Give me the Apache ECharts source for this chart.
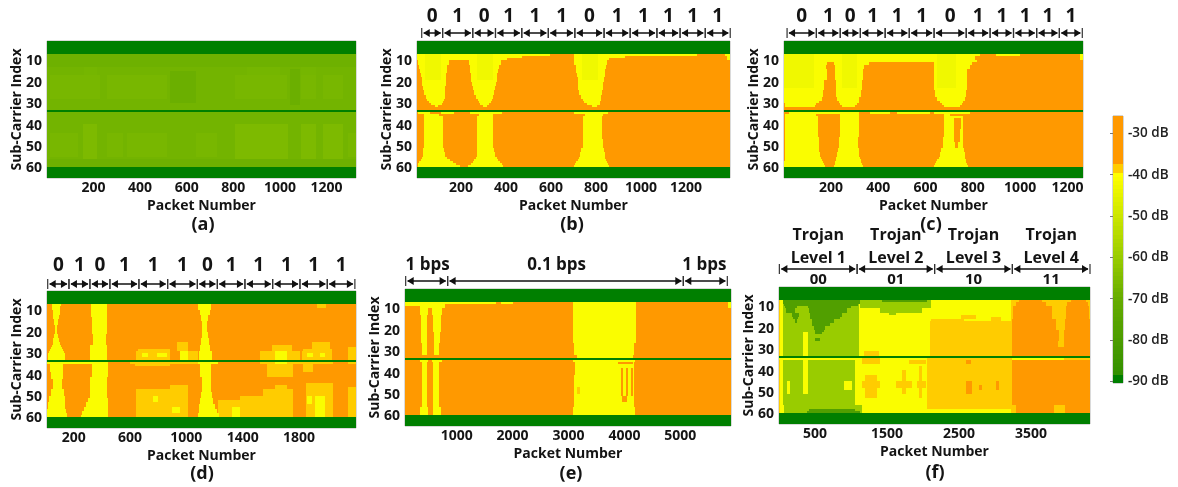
<!DOCTYPE html>
<html><head><meta charset="utf-8">
<style>html,body{margin:0;padding:0;background:#fff}#c{width:1178px;height:487px}</style>
<script src="https://cdn.jsdelivr.net/npm/echarts@6/dist/echarts.min.js"></script>
</head><body><div id="c"></div>
<script>
// dB levels used in the maps
const O=-30, G=-39, Y=-41, P=-43, LG=-60, DG=-78, K=-90;
// each record: [first sub-carrier, last sub-carrier, dB, packetFrom, packetTo, packetFrom, packetTo, ...]; later records overlay earlier ones
const panelA=[[7,59,-67.5,1,1326],
[7,12,-68.5,1,1326],[56,59,-68.5,1,1326],
[13,16,-67,160,214,860,1000,1092,1156],
[17,27,-66.5,14,228,257,514,806,1028,1092,1156,1185,1270],
[15,29,-69,528,642],[14,30,-69,1042,1085],
[40,55,-65.5,157,214,806,1035,1092,1156,1185,1270],
[44,54,-66.5,14,135,257,328,342,514,642,728,1292,1326],
[1,6,K,1,1326],[60,64,K,1,1326],[33,33,K,1,1326]];
const panelB=[[7,59,O,4,1396],
[7,7,Y,4,596,703,1249,1375,1396],[8,8,Y,4,470,703,930,1382,1396],[9,9,Y,4,403,703,860,1382,1396],
[10,11,Y,10,145,237,379,703,851],[12,13,Y,13,139,238,370,709,845],[14,15,Y,16,138,240,366,713,842],
[16,17,Y,20,135,243,362,716,839],[18,19,Y,25,133,246,359,718,836],[20,21,Y,28,132,249,356,719,833],
[22,23,Y,32,130,253,351,722,830],[24,25,Y,37,129,259,347,726,827],[26,27,Y,43,127,267,342,732,824],
[28,28,Y,50,124,274,336,741,821],[29,29,Y,56,121,278,332,747,820],[30,30,Y,65,117,284,326,759,817],[31,31,Y,84,99,296,314,781,804],
[7,18,P,40,110,270,340,740,810],
[34,34,Y,10,60,110,170,240,381,703,855],
[35,35,Y,37,100,280,340,750,830],
[36,46,Y,37,120,273,342,744,827],[47,50,Y,35,121,273,344,741,832],[51,52,Y,32,124,273,347,735,835],[53,54,Y,30,130,270,351,729,839],
[55,55,Y,26,139,265,359,723,842],[56,56,Y,20,151,259,366,718,845],[57,57,Y,15,163,252,373,712,850],[58,58,Y,10,178,243,382,706,854],[59,59,Y,7,195,232,388,701,858],
[1,6,K,4,1396],[60,64,K,4,1396],[33,33,K,4,1396]];
const panelC=[[7,59,O,1,1266],
[7,7,Y,1,831,900,1000,1253,1266],[8,9,Y,1,810,1253,1266],[10,10,Y,1,817],
[11,11,Y,1,183,214,359,636,796],[12,13,Y,1,180,218,338,636,786],[14,18,Y,1,183,218,335,636,777],
[19,23,Y,1,169,222,331,636,774],[24,26,Y,1,166,222,326,641,770],[27,28,Y,1,162,225,317,648,767],
[29,29,Y,1,148,232,317,662,760],[30,30,Y,7,138,236,310,669,753],[31,31,Y,7,133,246,302,676,746],
[7,22,P,1,130,245,310,650,730],
[34,34,Y,21,317,366,450,479,620,636,786],
[35,35,Y,7,138,239,317,676,704],
[36,45,Y,7,143,239,317,676,758],[46,50,Y,7,148,232,315,673,760],
[51,52,Y,7,150,228,318,665,763],[53,54,Y,7,155,225,320,659,765],[55,55,Y,7,158,222,322,655,767],
[56,56,Y,4,162,220,325,650,770],[57,57,Y,1,168,218,328,645,773],[58,58,Y,1,172,216,332,641,776],[59,59,Y,1,176,214,335,636,779],
[37,41,O,721,749],[42,47,O,721,744],[48,50,O,725,739],
[1,6,K,1,1266],[60,64,K,1,1266],[33,33,K,1,1266]];
const panelD=[[7,59,O,10,2205],
[28,28,G,659,884,1831,2032],[25,28,G,931,1014,1890,2020],[26,28,G,1606,1748],[27,28,G,2150,2205],
[29,32,G,642,884,1014,1085,1523,1807,1819,2032,2150,2205],
[29,32,Y,955,1014,1629,1712],[30,31,Y,682,730,790,860,1949,1984,1854,1902],
[7,8,G,1930,1990],
[34,34,G,599,1191,1523,2044,2150,2205],[34,34,Y,10,446,1085,1227,1629,1712],
[35,35,G,635,884],[35,40,G,1570,1760],[35,38,G,1831,1902],
[47,59,G,642,884],[45,59,G,884,1014],[52,59,G,1227,1381],[50,59,G,1381,1546],[47,59,G,1546,1760],[45,46,G,1629,1712],
[44,59,G,1850,2044],[46,59,G,2150,2205],
[50,59,Y,1913,1984],[50,53,Y,1854,1890],[55,59,Y,1322,1381],[50,52,Y,760,800],[55,57,Y,900,955],
[7,7,Y,43,107],[8,9,Y,46,105],[10,11,Y,50,100],[12,13,Y,55,95],[14,16,Y,62,88],[17,20,Y,68,80],[21,22,Y,62,88],[23,24,Y,55,92],[25,25,Y,50,100],[26,26,Y,46,108],[27,27,Y,40,115],[28,28,Y,32,122],[29,29,Y,25,130],[30,32,Y,19,138],
[34,38,Y,31,126],[39,41,Y,40,122],[42,46,Y,50,119],[47,49,Y,35,128],[50,52,Y,25,135],[53,55,Y,19,140],[56,57,Y,12,148],[58,59,Y,10,152],
[7,12,Y,320,439],[13,20,Y,328,435],[21,25,Y,334,432],[26,32,Y,318,434],[34,40,Y,327,446],[41,50,Y,315,439],[51,52,Y,300,446],[53,54,Y,290,446],[55,56,Y,275,446],[57,58,Y,262,446],[59,59,Y,250,446],
[7,9,Y,1085,1172],[10,11,Y,1095,1165],[12,14,Y,1104,1156],[15,19,Y,1113,1149],[20,22,Y,1110,1152],[23,25,Y,1104,1158],[26,28,Y,1097,1170],[29,32,Y,1090,1182],
[34,40,Y,1097,1172],[41,47,Y,1109,1172],[48,50,Y,1105,1180],[51,53,Y,1097,1191],[54,55,Y,1092,1205],[56,57,Y,1088,1220],[58,59,Y,1085,1232],
[1,6,K,10,2205],[60,64,K,10,2205],[33,33,K,10,2205]];
const panelE=[[7,59,O,75,5907],
[7,7,Y,75,1700,1800,2013],[8,9,Y,343,791],[8,8,Y,75,343],
[10,12,Y,343,492,564,731],[13,20,Y,355,475,582,713],[21,25,Y,361,463,594,701],[26,31,Y,373,463,600,689],
[34,34,Y,343,492,564,731],[35,48,Y,373,463,582,683],[49,55,Y,373,475,582,689],[56,59,Y,343,492,570,713],
[7,25,Y,3086,4201],[26,31,Y,3098,4172],[32,32,Y,3146,4160],
[34,34,Y,3086,4189],[35,40,Y,3116,4172],[41,55,Y,3104,4172],[56,59,Y,3074,4189],
[35,35,O,3891,4160],[38,50,O,3933,3981,4029,4070,4112,4160],[51,53,O,3951,4041],[47,49,G,3146,3206],
[7,9,Y,5859,5907],
[1,6,K,75,5907],[60,64,K,75,5907],[33,33,K,75,5907]];
const panelF=[[7,59,Y,1,4320],[7,59,G,1,20],
[7,32,LG,57,1109],[35,55,LG,57,1063],[56,59,LG,66,1155],
[34,34,Y,1,1086],[22,32,Y,335,400],[35,50,Y,335,400],[45,50,Y,112,159],[45,48,Y,900,1016],
[7,8,DG,57,1132],[9,9,DG,66,1100],[10,10,DG,80,250,400,1000],[11,12,DG,100,228,414,947],[13,14,DG,182,274,437,880],[15,15,DG,200,260,437,854],[16,17,DG,228,251,460,760],[18,18,DG,460,715],[19,20,DG,483,640],[21,21,DG,500,622],[22,22,DG,506,599],[25,25,DG,506,576],[58,58,DG,420,1060],[59,59,DG,390,1132],
[7,10,LG,1132,2105],[11,12,LG,1410,1990],[13,13,LG,1526,1619],[7,7,DG,1434,2059],
[31,32,G,1178,1387],[34,36,G,1155,1410],[35,36,G,1800,2036],[42,52,G,1202,1364],[45,47,G,1155,1410,1619,1851,1911,2036],[40,50,G,1712,1758],[38,52,G,1944,1990],
[17,32,G,2096,3241],[16,16,G,2105,2570],[14,15,G,2523,2731],[15,16,G,2940,3079],[34,57,G,2059,3241],
[35,36,O,2593,2662],[45,50,O,2593,2685],[45,48,O,3010,3056],[47,48,O,2778,2824],
[7,59,G,3218,4320],
[7,7,O,3330,3650,4060,4270],[8,9,O,3288,3705,4006,4294],[10,15,O,3255,3798,3983,4308],[16,20,O,3241,3844,3974,4320],[21,25,O,3241,3890,3960,4320],[26,28,O,3241,3881,3960,4320],
[29,32,O,3241,4320],[34,34,Y,3241,3960],[35,55,O,3241,4320],[56,59,O,3288,3821,3974,4320],
[1,6,K,1,4320],[60,64,K,1,4320],[33,33,K,1,4320]];

const subCarrierTicks=[10,20,30,40,50,60];
const ticksABC=[200,400,600,800,1000,1200];
const ticksD=[200,600,1000,1400,1800];
const ticksE=[1000,2000,3000,4000,5000];
const ticksF=[500,1500,2500,3500];
const colorbarTicks=[-30,-40,-50,-60,-70,-80,-90];
const colorbarLevels=[-26,-27,-28,-29,-30,-31,-32,-33,-34,-35,-36,-37,-38,-39,-40,-41,-42,-43,-44,-45,-46,-47,-48,-49,-50,-51,-52,-53,-54,-55,-56,-57,-58,-59,-60,-61,-62,-63,-64,-65,-66,-67,-68,-69,-70,-71,-72,-73,-74,-75,-76,-77,-78,-79,-80,-81,-82,-83,-84,-85,-86,-87,-88,-89,-90];

const edgesB=[25,118,252,353,470,588,706,836,952,1071,1174,1286,1397];
const edgesC=[14,138,239,324,429,531,636,772,873,972,1070,1166,1263];
const edgesD=[15,166,315,457,663,867,1078,1220,1416,1613,1807,2001,2197];
const edgesE=[87,838,5054,5841];
const edgesF=[6,1086,2162,3242,4320];
const bitLabels=['0','1','0','1','1','1','0','1','1','1','1','1'];
const rateLabels=['1 bps','0.1 bps','1 bps'];
const rateCenters=[480,2788,5430];
const trojanBits=['00','01','10','11'];
const trojanLevels=['Level 1','Level 2','Level 3','Level 4'];
const trojanWords=['Trojan','Trojan','Trojan','Trojan'];

const FONT='"Open Sans",sans-serif', INK='#141414';
const stops=[[-90,[0,127,0]],[-89,[0,127,0]],[-88,[51,144,0]],[-80,[76,156,0]],[-70,[102,172,0]],[-60,[153,204,0]],[-50,[204,230,0]],[-40,[255,255,0]]];
function colorOf(v){
  if(v>-38) return '#FF9900';
  if(v>-39.8) return '#FFCC00';
  for(let i=stops.length-1;i>0;i--){
    if(v>=stops[i-1][0]){
      const a=stops[i-1],b=stops[i],t=Math.min(1,(v-a[0])/(b[0]-a[0]));
      return 'rgb('+a[1].map((c,k)=>Math.round(c+(b[1][k]-c)*t)).join(',')+')';
    }
  }
  return '#007F00';
}
function cells(records){
  const out=[];
  records.forEach(r=>{for(let i=3;i<r.length;i+=2) out.push([r[i],r[i+1],r[0],r[1],r[2]]);});
  return out;
}
function renderCell(params,api){
  const a=api.coord([api.value(0),api.value(2)-0.5]), b=api.coord([api.value(1),api.value(3)+0.5]);
  const x0=Math.round(Math.min(a[0],b[0])), x1=Math.round(Math.max(a[0],b[0]));
  const y0=Math.round(Math.min(a[1],b[1])), y1=Math.round(Math.max(a[1],b[1]));
  return {type:'rect',shape:{x:x0,y:y0,width:x1-x0,height:y1-y0},style:{fill:colorOf(api.value(4))}};
}
const panels=[
 {rec:panelA,min:1,max:1326,ticks:ticksABC,l:47,t:41,w:309,h:137,letter:'(a)',lx:203,ly:225},
 {rec:panelB,min:4,max:1396,ticks:ticksABC,l:417,t:41,w:313,h:137,letter:'(b)',lx:572,ly:225,
  edges:edgesB,dyArrow:-8,rows:[{dy:-24,size:19,texts:bitLabels}]},
 {rec:panelC,min:1,max:1266,ticks:ticksABC,l:784,t:41,w:299,h:137,letter:'(c)',lx:931,ly:225,
  edges:edgesC,dyArrow:-8,rows:[{dy:-24,size:19,texts:bitLabels}]},
 {rec:panelD,min:10,max:2205,ticks:ticksD,l:47,t:291,w:309,h:137,letter:'(d)',lx:202,ly:474,
  edges:edgesD,dyArrow:-7,rows:[{dy:-25,size:19,texts:bitLabels}]},
 {rec:panelE,min:75,max:5907,ticks:ticksE,l:405,t:289,w:326,h:137,letter:'(e)',lx:571,ly:474,
  edges:edgesE,dyArrow:-8,rows:[{dy:-24,size:17,texts:rateLabels,centers:rateCenters}]},
 {rec:panelF,min:1,max:4320,ticks:ticksF,l:779,t:287,w:311,h:137,letter:'(f)',lx:935,ly:473,
  edges:edgesF,dyArrow:-18,rows:[{dy:-52,size:16,texts:trojanWords},{dy:-29,size:16,texts:trojanLevels},{dy:-7,size:15,texts:trojanBits}]}
];
const grid=[],xAxis=[],yAxis=[],series=[],title=[];
panels.forEach((p,i)=>{
  grid.push({left:p.l,top:p.t,width:p.w,height:p.h,show:true,borderColor:'#b5b5b5',borderWidth:1,backgroundColor:'#fff',outerBoundsMode:'none',containLabel:false});
  xAxis.push({gridIndex:i,type:'value',min:p.min,max:p.max,name:'Packet Number',nameLocation:'middle',nameGap:21,nameMoveOverlap:false,
    nameTextStyle:{fontFamily:FONT,fontWeight:'bold',fontSize:14,color:INK},
    axisLine:{show:false},splitLine:{show:false},
    axisTick:{show:true,inside:true,length:2,lineStyle:{color:'#3b7a20'},customValues:p.ticks},
    axisLabel:{fontFamily:FONT,fontWeight:'bold',fontSize:14,color:INK,margin:3,customValues:p.ticks,hideOverlap:false,formatter:v=>String(v)}});
  yAxis.push({gridIndex:i,type:'value',min:0.5,max:64.5,inverse:true,name:'Sub-Carrier Index',nameLocation:'middle',nameGap:23,nameMoveOverlap:false,nameRotate:90,
    nameTextStyle:{fontFamily:FONT,fontWeight:'bold',fontSize:14,color:INK},
    axisLine:{show:false},splitLine:{show:false},
    axisTick:{show:true,inside:true,length:2,lineStyle:{color:'#3b7a20'},customValues:subCarrierTicks},
    axisLabel:{fontFamily:FONT,fontWeight:'bold',fontSize:14,color:INK,margin:5,customValues:subCarrierTicks,hideOverlap:false}});
  series.push({type:'custom',xAxisIndex:i,yAxisIndex:i,data:cells(p.rec),encode:{x:[0,1],y:[2,3]},renderItem:renderCell,silent:true,animation:false,clip:true,z:2});
  title.push({text:p.letter,left:p.lx,top:p.ly-12,textAlign:'center',padding:0,textStyle:{fontFamily:FONT,fontWeight:'bold',fontSize:18,color:INK,lineHeight:24}});
  if(p.edges){
    const segs=p.edges.slice(0,-1).map((e,k)=>[e,p.edges[k+1]]);
    series.push({type:'custom',xAxisIndex:i,yAxisIndex:i,data:segs,encode:{x:[0,1]},silent:true,animation:false,clip:false,z:3,
      renderItem(params,api){
        const k=params.dataIndex;
        const x0=api.coord([api.value(0),0.5]), x1=api.coord([api.value(1),0.5]);
        const yy=x0[1]+p.dyArrow, ink='#111';
        const kids=[
          {type:'line',shape:{x1:x0[0]+2,y1:yy,x2:x1[0]-2,y2:yy},style:{stroke:ink,lineWidth:1.5}},
          {type:'line',shape:{x1:x0[0],y1:yy-5,x2:x0[0],y2:yy+5},style:{stroke:'#333',lineWidth:1.2}},
          {type:'line',shape:{x1:x1[0],y1:yy-5,x2:x1[0],y2:yy+5},style:{stroke:'#333',lineWidth:1.2}},
          {type:'polygon',shape:{points:[[x0[0]+1.5,yy],[x0[0]+8,yy-4],[x0[0]+8,yy+4]]},style:{fill:ink}},
          {type:'polygon',shape:{points:[[x1[0]-1.5,yy],[x1[0]-8,yy-4],[x1[0]-8,yy+4]]},style:{fill:ink}}
        ];
        p.rows.forEach(r=>{
          const cx=r.centers?api.coord([r.centers[k],0.5])[0]:(x0[0]+x1[0])/2;
          kids.push({type:'text',style:{text:r.texts[k],x:cx,y:x0[1]+r.dy,align:'center',verticalAlign:'middle',
            font:'bold '+r.size+'px "Open Sans",sans-serif',fill:INK}});
        });
        return {type:'group',children:kids};
      }});
  }
});
// colour bar
const cb=panels.length;
grid.push({left:1113,top:116,width:10,height:267,show:true,borderColor:'#aaa',borderWidth:1,outerBoundsMode:'none',containLabel:false});
xAxis.push({gridIndex:cb,type:'value',min:0,max:1,show:false});
yAxis.push({gridIndex:cb,type:'value',min:-90.4,max:-25.8,position:'right',axisLine:{show:false},splitLine:{show:false},
  axisTick:{show:true,inside:true,length:3,lineStyle:{color:'#777'},customValues:colorbarTicks},
  axisLabel:{fontFamily:FONT,fontWeight:600,fontSize:13.5,color:'#222',margin:5,customValues:colorbarTicks,hideOverlap:false,formatter:v=>v+' dB'}});
series.push({type:'custom',xAxisIndex:cb,yAxisIndex:cb,data:colorbarLevels.map(v=>[v]),encode:{y:0},silent:true,animation:false,z:2,
  renderItem(params,api){
    const v=api.value(0);
    const a=api.coord([0,Math.min(v+0.5,-25.8)]), b=api.coord([1,Math.max(v-0.5,-90.4)]);
    const y0=Math.round(a[1]), y1=Math.round(b[1]);
    return {type:'rect',shape:{x:a[0],y:y0,width:b[0]-a[0],height:y1-y0},style:{fill:colorOf(v)}};
  }});
const chart=echarts.init(document.getElementById('c'),null,{renderer:'canvas',width:1178,height:487});
chart.setOption({animation:false,backgroundColor:'#fff',title,grid,xAxis,yAxis,series});
</script></body></html>
